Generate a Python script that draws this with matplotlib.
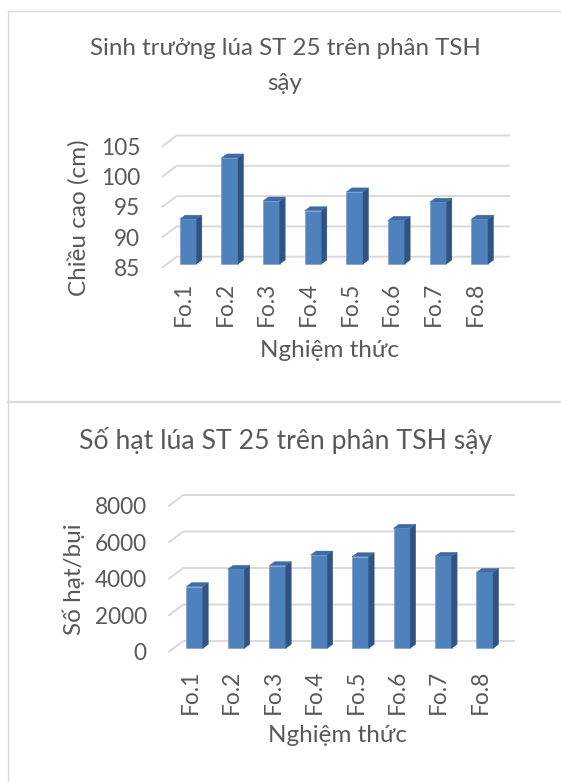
import matplotlib
matplotlib.use('Agg')
import matplotlib.pyplot as plt
from matplotlib.patches import Polygon
from matplotlib.lines import Line2D
import numpy as np

# ---------------- data ----------------
categories = ['Fo.1', 'Fo.2', 'Fo.3', 'Fo.4', 'Fo.5', 'Fo.6', 'Fo.7', 'Fo.8']
height_cm = [92.4, 102.5, 95.4, 93.8, 96.9, 92.2, 95.2, 92.4]
grain_count = [3380, 4330, 4530, 5110, 5020, 6580, 5040, 4160]
height_ticks = [85, 90, 95, 100, 105]
grain_ticks = [0, 2000, 4000, 6000, 8000]

title1_line1 = 'Sinh trưởng lúa ST 25 trên phân TSH'
title1_line2 = 'sậy'
title2 = 'Số hạt lúa ST 25 trên phân TSH sậy'
ylabel1 = 'Chiều cao (cm)'
ylabel2 = 'Số hạt/bụi'
xlabel = 'Nghiệm thức'

# ---------------- style ----------------
W, H, DPI = 561, 782, 100
FONT = ['Lato', 'DejaVu Sans']
TXT = '#595959'
GRID = '#D9D9D9'
FRONT = '#4F81BD'
SIDE = '#2F5383'
TOP = '#3E6BA5'
TICK_FS = 16.3
AXT_FS = 17.5

plt.rcParams['font.family'] = FONT

fig = plt.figure(figsize=(W / DPI, H / DPI), dpi=DPI)
fig.patch.set_facecolor('white')


def fx(x):
    return x / W


def fy(y):
    return 1 - y / H


def make_axes(left, right, top, bottom):
    return fig.add_axes([fx(left), fy(bottom), fx(right) - fx(left), fy(top) - fy(bottom)])


def shift(ax, xs, ys, dx, dy):
    """Take data points, move them dx, dy pixels on screen, return data points."""
    pts = ax.transData.transform(np.column_stack([xs, ys]))
    pts = pts + np.array([dx, dy])
    return ax.transData.inverted().transform(pts)


def draw_chart(ax, values, ticks, label_gap_top):
    n = len(categories)
    ax.set_xlim(-0.5, n - 0.5)
    ax.set_ylim(ticks[0], ticks[-1])
    ax.axis('off')
    ymin = ticks[0]

    back_dx, back_dy = 9.5, 7.3
    front_dx, front_dy = -5.5, -4.0

    # gridlines (floor diagonal + back wall)
    for t in ticks:
        f = shift(ax, [-0.5], [t], front_dx, front_dy)[0]
        bl = shift(ax, [-0.5], [t], back_dx, back_dy)[0]
        br = shift(ax, [n - 0.5], [t], back_dx, back_dy)[0]
        ax.add_line(Line2D([f[0], bl[0], br[0]], [f[1], bl[1], br[1]],
                           color=GRID, lw=1.4, zorder=1, clip_on=False,
                           solid_capstyle='butt'))
        # tick labels
        lab = shift(ax, [-0.5], [t], front_dx - 21.5, front_dy - 1.5)[0]
        ax.text(lab[0], lab[1], f'{t:d}', ha='right', va='center',
                fontsize=TICK_FS, color=TXT, clip_on=False)

    # bars
    x = np.arange(n)
    w = 0.4
    bars = ax.bar(x, np.array(values) - ymin, bottom=ymin, width=w,
                  color=FRONT, edgecolor='#6E97C9', linewidth=0.4,
                  zorder=3, clip_on=False)
    ddx, ddy = 5.5, 4.0
    for b, v in zip(bars, values):
        x0 = b.get_x()
        x1 = x0 + b.get_width()
        s = shift(ax, [x1, x1], [ymin, v], ddx, ddy)
        ax.add_patch(Polygon([(x1, ymin), (x1, v), tuple(s[1]), tuple(s[0])],
                             closed=True, facecolor=SIDE, edgecolor=SIDE,
                             lw=0.3, zorder=3, clip_on=False))
        tpt = shift(ax, [x0, x1], [v, v], ddx, ddy)
        ax.add_patch(Polygon([(x0, v), (x1, v), tuple(tpt[1]), tuple(tpt[0])],
                             closed=True, facecolor=TOP, edgecolor=TOP,
                             lw=0.3, zorder=3, clip_on=False))

    # category labels
    for i, c in enumerate(categories):
        p = shift(ax, [i], [ymin], -4.5, -label_gap_top)[0]
        ax.text(p[0], p[1], c, rotation=90, ha='center', va='top',
                fontsize=TICK_FS, color=TXT, clip_on=False)


# ---------------- chart 1 ----------------
ax1 = make_axes(167.2, 500.5, 142.8, 264.0)
draw_chart(ax1, height_cm, height_ticks, 17.7)

# ---------------- chart 2 ----------------
ax2 = make_axes(173.8, 505.5, 502.3, 648.3)
draw_chart(ax2, grain_count, grain_ticks, 21.7)

# titles & axis titles
fig.text(fx(285), fy(55), title1_line1, ha='center', va='baseline',
         fontsize=17.4, color=TXT)
fig.text(fx(285), fy(90), title1_line2, ha='center', va='baseline',
         fontsize=17.4, color=TXT)
fig.text(fx(286), fy(449), title2, ha='center', va='baseline', fontsize=19.2,
         color=TXT)
fig.text(fx(79), fy(218), ylabel1, rotation=90, ha='center', va='center',
         fontsize=AXT_FS, color=TXT)
fig.text(fx(74), fy(579), ylabel2, rotation=90, ha='center', va='center',
         fontsize=AXT_FS, color=TXT)
fig.text(fx(329), fy(350), xlabel, ha='center', va='center', fontsize=AXT_FS,
         color=TXT)
fig.text(fx(337), fy(735), xlabel, ha='center', va='center', fontsize=AXT_FS,
         color=TXT)

# chart frames
frame = dict(color=GRID, lw=1.0, transform=fig.transFigure, clip_on=False)
fig.add_artist(Line2D([fx(8), fx(8)], [fy(11), fy(782)], **frame))
fig.add_artist(Line2D([fx(8), fx(561)], [fy(11), fy(11)], **frame))
fig.add_artist(Line2D([fx(8), fx(561)], [fy(402), fy(402)],
                      color=GRID, lw=1.6, transform=fig.transFigure))

fig.savefig('out.png', dpi=DPI, facecolor='white')
